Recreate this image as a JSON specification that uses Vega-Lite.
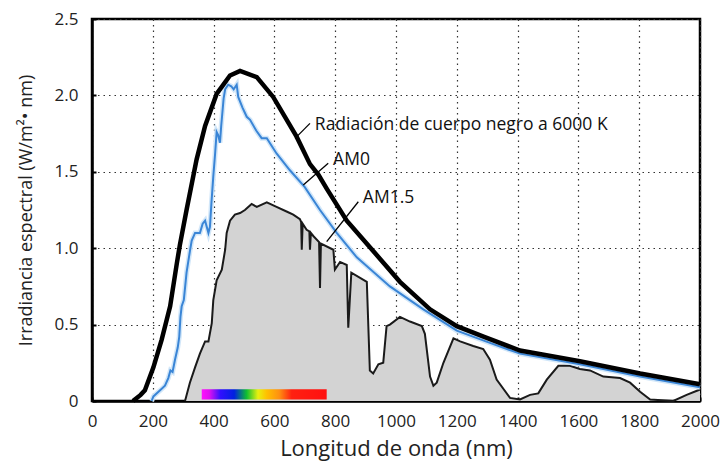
{
  "$schema": "https://vega.github.io/schema/vega-lite/v6.json",
  "width": 608,
  "height": 382,
  "autosize": {"type": "none"},
  "padding": {"left": 92, "top": 19, "right": 24, "bottom": 67},
  "background": "white",
  "config": {
    "view": {"stroke": "black", "strokeWidth": 2.5},
    "font": "Open Sans",
    "axis": {
      "grid": true,
      "gridDash": [1.5, 4],
      "gridColor": "#333",
      "gridWidth": 1.2,
      "domainColor": "black",
      "domainWidth": 2.5,
      "tickColor": "black",
      "tickWidth": 2,
      "tickSize": -4,
      "labelFontSize": 17,
      "labelColor": "#222",
      "labelOverlap": false,
      "labelFlush": false,
      "titleFontWeight": "normal",
      "titleColor": "#222",
      "zindex": 1
    }
  },
  "datasets": {
    "bb": [
      {"nm": 135, "v": 0}, {"nm": 141, "v": 0.01}, {"nm": 160, "v": 0.04}, {"nm": 174, "v": 0.07},
      {"nm": 202, "v": 0.22}, {"nm": 229, "v": 0.40}, {"nm": 257, "v": 0.62}, {"nm": 279, "v": 0.90},
      {"nm": 289, "v": 1.02}, {"nm": 311, "v": 1.25}, {"nm": 344, "v": 1.58}, {"nm": 372, "v": 1.80},
      {"nm": 410, "v": 2.01}, {"nm": 454, "v": 2.13}, {"nm": 487, "v": 2.16}, {"nm": 542, "v": 2.12},
      {"nm": 596, "v": 1.99}, {"nm": 673, "v": 1.73}, {"nm": 717, "v": 1.55}, {"nm": 745, "v": 1.48},
      {"nm": 772, "v": 1.39}, {"nm": 838, "v": 1.18}, {"nm": 930, "v": 0.97}, {"nm": 1013, "v": 0.78},
      {"nm": 1112, "v": 0.60}, {"nm": 1200, "v": 0.49}, {"nm": 1290, "v": 0.42}, {"nm": 1408, "v": 0.33},
      {"nm": 1605, "v": 0.26}, {"nm": 1803, "v": 0.18}, {"nm": 2000, "v": 0.11}
    ],
    "am0": [
      {"nm": 196, "v": 0}, {"nm": 202, "v": 0.03}, {"nm": 224, "v": 0.07}, {"nm": 240, "v": 0.10},
      {"nm": 251, "v": 0.15}, {"nm": 258, "v": 0.20}, {"nm": 265, "v": 0.19}, {"nm": 273, "v": 0.27},
      {"nm": 282, "v": 0.35}, {"nm": 287, "v": 0.42}, {"nm": 291, "v": 0.55}, {"nm": 295, "v": 0.62},
      {"nm": 302, "v": 0.66}, {"nm": 311, "v": 0.84}, {"nm": 322, "v": 0.98}, {"nm": 328, "v": 1.05},
      {"nm": 339, "v": 1.10}, {"nm": 355, "v": 1.10}, {"nm": 364, "v": 1.16}, {"nm": 372, "v": 1.18},
      {"nm": 383, "v": 1.10}, {"nm": 388, "v": 1.14}, {"nm": 393, "v": 1.30}, {"nm": 399, "v": 1.47},
      {"nm": 405, "v": 1.62}, {"nm": 410, "v": 1.76}, {"nm": 415, "v": 1.74}, {"nm": 421, "v": 1.69},
      {"nm": 425, "v": 1.80}, {"nm": 433, "v": 1.98}, {"nm": 438, "v": 2.04}, {"nm": 448, "v": 2.07},
      {"nm": 458, "v": 2.06}, {"nm": 466, "v": 2.04}, {"nm": 476, "v": 2.07}, {"nm": 481, "v": 1.99},
      {"nm": 495, "v": 1.92}, {"nm": 509, "v": 1.86}, {"nm": 520, "v": 1.84}, {"nm": 540, "v": 1.77},
      {"nm": 558, "v": 1.72}, {"nm": 575, "v": 1.72}, {"nm": 607, "v": 1.62}, {"nm": 651, "v": 1.51},
      {"nm": 700, "v": 1.40}, {"nm": 750, "v": 1.25}, {"nm": 805, "v": 1.10}, {"nm": 871, "v": 0.94},
      {"nm": 980, "v": 0.75}, {"nm": 1090, "v": 0.60}, {"nm": 1200, "v": 0.46}, {"nm": 1309, "v": 0.38},
      {"nm": 1408, "v": 0.31}, {"nm": 1605, "v": 0.24}, {"nm": 1803, "v": 0.16}, {"nm": 2000, "v": 0.09}
    ],
    "am15": [
      {"nm": 306, "v": 0}, {"nm": 322, "v": 0.12}, {"nm": 339, "v": 0.22}, {"nm": 355, "v": 0.31},
      {"nm": 372, "v": 0.39}, {"nm": 383, "v": 0.39}, {"nm": 394, "v": 0.51}, {"nm": 399, "v": 0.66},
      {"nm": 410, "v": 0.79}, {"nm": 427, "v": 0.86}, {"nm": 438, "v": 0.99}, {"nm": 443, "v": 1.10},
      {"nm": 454, "v": 1.18}, {"nm": 470, "v": 1.22}, {"nm": 487, "v": 1.23}, {"nm": 503, "v": 1.25},
      {"nm": 525, "v": 1.29}, {"nm": 542, "v": 1.27}, {"nm": 575, "v": 1.30}, {"nm": 607, "v": 1.27},
      {"nm": 640, "v": 1.24}, {"nm": 662, "v": 1.22}, {"nm": 684, "v": 1.19}, {"nm": 688, "v": 1.17},
      {"nm": 690, "v": 0.99}, {"nm": 693, "v": 1.16}, {"nm": 706, "v": 1.12}, {"nm": 715, "v": 1.11},
      {"nm": 717, "v": 0.99}, {"nm": 720, "v": 1.10}, {"nm": 728, "v": 1.08}, {"nm": 747, "v": 1.04},
      {"nm": 750, "v": 0.74}, {"nm": 753, "v": 1.03}, {"nm": 794, "v": 0.99}, {"nm": 799, "v": 0.86},
      {"nm": 816, "v": 0.91}, {"nm": 838, "v": 0.89}, {"nm": 843, "v": 0.48}, {"nm": 853, "v": 0.84},
      {"nm": 904, "v": 0.78}, {"nm": 914, "v": 0.20}, {"nm": 925, "v": 0.18}, {"nm": 942, "v": 0.24},
      {"nm": 958, "v": 0.25}, {"nm": 969, "v": 0.49}, {"nm": 980, "v": 0.50}, {"nm": 1013, "v": 0.55},
      {"nm": 1046, "v": 0.52}, {"nm": 1085, "v": 0.49}, {"nm": 1095, "v": 0.44}, {"nm": 1112, "v": 0.16},
      {"nm": 1123, "v": 0.10}, {"nm": 1134, "v": 0.12}, {"nm": 1156, "v": 0.25}, {"nm": 1189, "v": 0.41},
      {"nm": 1211, "v": 0.39}, {"nm": 1254, "v": 0.36}, {"nm": 1287, "v": 0.34}, {"nm": 1309, "v": 0.27},
      {"nm": 1331, "v": 0.14}, {"nm": 1375, "v": 0.02}, {"nm": 1408, "v": 0.01}, {"nm": 1441, "v": 0.04},
      {"nm": 1468, "v": 0.05}, {"nm": 1496, "v": 0.14}, {"nm": 1534, "v": 0.23}, {"nm": 1572, "v": 0.23},
      {"nm": 1605, "v": 0.21}, {"nm": 1638, "v": 0.20}, {"nm": 1682, "v": 0.16}, {"nm": 1737, "v": 0.15},
      {"nm": 1770, "v": 0.12}, {"nm": 1803, "v": 0.06}, {"nm": 1836, "v": 0.01}, {"nm": 1912, "v": 0},
      {"nm": 1956, "v": 0.04}, {"nm": 1994, "v": 0.07}, {"nm": 2000, "v": 0.075}
    ],
    "labels": [
      {"nm": 733, "v": 1.806, "label": "Radiación de cuerpo negro a 6000 K"},
      {"nm": 793, "v": 1.577, "label": "AM0"},
      {"nm": 891, "v": 1.33, "label": "AM1.5"}
    ],
    "leaders": [
      {"nm": 668, "v": 1.719, "nm2": 717, "v2": 1.817},
      {"nm": 695, "v": 1.414, "nm2": 777, "v2": 1.556},
      {"nm": 772, "v": 1.043, "nm2": 876, "v2": 1.304}
    ],
    "spectrum": [
      {"nm": 361, "nm2": 772, "v": 0.01, "v2": 0.077}
    ]
  },
  "encoding": {
    "x": {
      "field": "nm", "type": "quantitative",
      "scale": {"domain": [0, 2000], "nice": false},
      "axis": {
        "title": "Longitud de onda (nm)",
        "values": [0, 200, 400, 600, 800, 1000, 1200, 1400, 1600, 1800, 2000],
        "format": "d",
        "labelPadding": 16,
        "titleFontSize": 22,
        "titlePadding": 9
      }
    },
    "y": {
      "field": "v", "type": "quantitative",
      "scale": {"domain": [0, 2.5], "nice": false},
      "axis": {
        "title": "Irradiancia espectral (W/m²• nm)",
        "values": [0, 0.5, 1, 1.5, 2, 2.5],
        "labelExpr": "datum.value == 0 ? '0' : format(datum.value, '.1f')",
        "labelPadding": 18,
        "titleFontSize": 18,
        "titlePadding": 19
      }
    }
  },
  "layer": [
    {"data": {"name": "am15"}, "mark": {"type": "area", "color": "#d3d3d3"}},
    {"data": {"name": "am15"}, "mark": {"type": "line", "color": "#1a1a1a", "strokeWidth": 2}},
    {
      "data": {"name": "spectrum"},
      "mark": {
        "type": "rect",
        "fill": {
          "gradient": "linear", "x1": 0, "x2": 1, "y1": 0, "y2": 0,
          "stops": [
            {"offset": 0, "color": "#ff10ff"},
            {"offset": 0.06, "color": "#e010f0"},
            {"offset": 0.15, "color": "#3010ff"},
            {"offset": 0.26, "color": "#0020e0"},
            {"offset": 0.36, "color": "#10c030"},
            {"offset": 0.45, "color": "#e8f010"},
            {"offset": 0.52, "color": "#ffc000"},
            {"offset": 0.62, "color": "#ff9010"},
            {"offset": 0.72, "color": "#ff2010"},
            {"offset": 1, "color": "#ff1010"}
          ]
        }
      },
      "encoding": {
        "x2": {"field": "nm2"},
        "y2": {"field": "v2"}
      }
    },
    {"data": {"name": "am0"}, "mark": {"type": "line", "color": "#d2e7f9", "strokeWidth": 5}},
    {"data": {"name": "am0"}, "mark": {"type": "line", "color": "#3a85d6", "strokeWidth": 2}},
    {"data": {"name": "bb"}, "mark": {"type": "line", "color": "black", "strokeWidth": 4.5}},
    {
      "data": {"name": "leaders"},
      "mark": {"type": "rule", "color": "black", "strokeWidth": 1.3},
      "encoding": {"x2": {"field": "nm2"}, "y2": {"field": "v2"}}
    },
    {
      "data": {"name": "labels"},
      "mark": {"type": "text", "align": "left", "baseline": "middle", "fontSize": 17.5, "color": "#111"},
      "encoding": {"text": {"field": "label"}}
    }
  ]
}
